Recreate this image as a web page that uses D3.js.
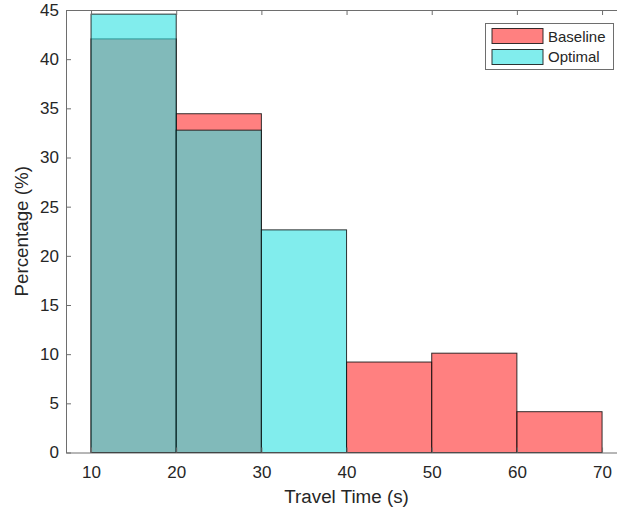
<!DOCTYPE html>
<html>
<head>
<meta charset="utf-8">
<script src="https://cdn.jsdelivr.net/npm/d3@7"></script>
<style>
  body { margin: 0; background: #fff; }
  text { font-family: "Liberation Sans", Arial, Helvetica, sans-serif; fill: #262626; }
</style>
</head>
<body>
<svg id="chart" width="617" height="510"></svg>
<script>
// Histogram bin edges (s) and per-bin percentages for each run
const binEdges = [10, 20, 30, 40, 50, 60, 70];
const baselinePct = [42.06, 34.45, 0, 9.2, 10.1, 4.15];
const optimalPct = [44.58, 32.78, 22.64, 0, 0, 0];
const seriesNames = ["Baseline", "Optimal"];
const xTicks = [10, 20, 30, 40, 50, 60, 70];
const yTicks = [0, 5, 10, 15, 20, 25, 30, 35, 40, 45];

const svg = d3.select("#chart");
const plotLeft = 66, plotRight = 627.1, plotTop = 10, plotBottom = 452.5;

const x = d3.scaleLinear().domain([7.06, 72.94]).range([plotLeft, plotRight]);
const y = d3.scaleLinear().domain([0, 45]).range([plotBottom, plotTop]);

const colors = { Baseline: "rgb(255,43,43)", Optimal: "rgb(45,225,225)" };

function bins(values) {
  return values.map((v, i) => ({ x0: binEdges[i], x1: binEdges[i + 1], v }))
               .filter(d => d.v > 0);
}

const plot = svg.append("g");
[[seriesNames[0], baselinePct], [seriesNames[1], optimalPct]].forEach(([name, vals]) => {
  plot.append("g").selectAll("rect")
    .data(bins(vals))
    .join("rect")
    .attr("x", d => x(d.x0))
    .attr("y", d => y(d.v))
    .attr("width", d => x(d.x1) - x(d.x0))
    .attr("height", d => y(0) - y(d.v))
    .attr("fill", colors[name])
    .attr("fill-opacity", 0.6)
    .attr("stroke", "#111")
    .attr("stroke-opacity", 0.85)
    .attr("stroke-width", 1);
});

// Axes with inward ticks, boxed on top
const axisColor = "#6e6e6e";
const gx = svg.append("g").attr("transform", `translate(0,${plotBottom})`)
  .call(d3.axisBottom(x).tickValues(xTicks).tickSize(-5).tickSizeOuter(0).tickPadding(13));
const gxTop = svg.append("g").attr("transform", `translate(0,${plotTop})`)
  .call(d3.axisTop(x).tickValues(xTicks).tickSize(-5).tickSizeOuter(0).tickFormat(""));
const gy = svg.append("g").attr("transform", `translate(${plotLeft},0)`)
  .call(d3.axisLeft(y).tickValues(yTicks).tickSize(-5).tickSizeOuter(0).tickPadding(7));

[gx, gxTop, gy].forEach(g => {
  g.selectAll("path.domain").attr("stroke", axisColor);
  g.selectAll(".tick line").attr("stroke", axisColor);
  g.selectAll(".tick text").attr("fill", "#262626").style("font-size", "17px")
    .style("font-family", "'Liberation Sans', Arial, sans-serif");
});

// Axis titles
svg.append("text")
  .attr("x", (plotLeft + plotRight) / 2).attr("y", 503)
  .attr("text-anchor", "middle").style("font-size", "18.8px")
  .text("Travel Time (s)");
svg.append("text")
  .attr("transform", `translate(28,${(plotTop + plotBottom) / 2}) rotate(-90)`)
  .attr("text-anchor", "middle").style("font-size", "18.8px")
  .text("Percentage (%)");

// Legend
const lg = svg.append("g");
lg.append("rect").attr("x", 485.5).attr("y", 23.5).attr("width", 128).attr("height", 46)
  .attr("fill", "#fff").attr("stroke", axisColor);
seriesNames.forEach((name, i) => {
  lg.append("rect")
    .attr("x", 492).attr("y", 28.5 + i * 21).attr("width", 51).attr("height", 15)
    .attr("fill", colors[name]).attr("fill-opacity", 0.6)
    .attr("stroke", "#111").attr("stroke-opacity", 0.85);
  lg.append("text")
    .attr("x", 548).attr("y", 42 + i * 20)
    .style("font-size", "15px")
    .text(name);
});
</script>
</body>
</html>
